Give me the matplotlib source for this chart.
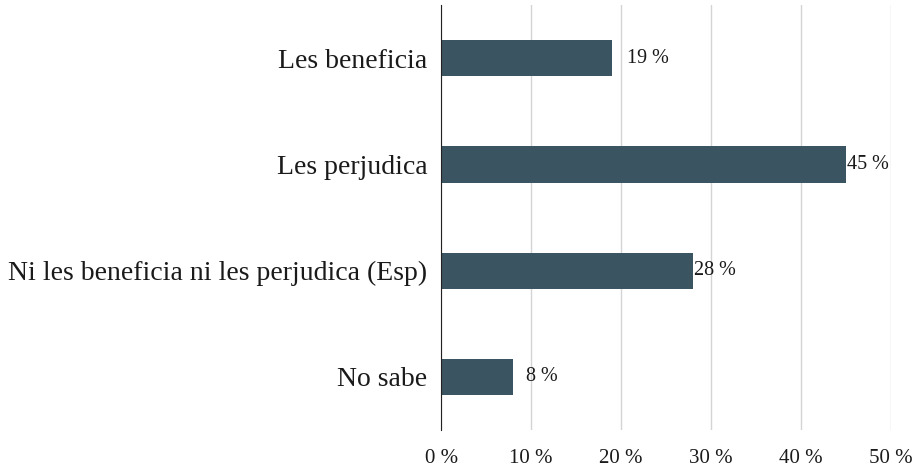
import matplotlib.pyplot as plt

categories = ['Les beneficia', 'Les perjudica', 'Ni les beneficia ni les perjudica (Esp)', 'No sabe']
values = [19, 45, 28, 8]
xticks = [0, 10, 20, 30, 40, 50]

plt.rcParams['font.family'] = ['Liberation Serif', 'DejaVu Serif']

fig = plt.figure(figsize=(9.19, 4.7), dpi=100)
ax = fig.add_axes([0.48, 0.085, 0.4895, 0.904])

y = list(range(len(categories)))
ax.barh(y, values, height=0.34, color='#3a5461', zorder=3)
ax.set_ylim(len(categories) - 0.5, -0.5)
ax.set_xlim(0, 50)

# etiquetas de valor
offsets = [11, 1, 1, 9]
for yi, v, off in zip(y, values, offsets):
    ax.annotate(f'{v} %', (v, yi), xytext=(off, 0), textcoords='offset points',
                va='center', ha='left', fontsize=14.5, color='#1a1a1a')

ax.set_yticks(y)
ax.set_yticklabels(categories, fontsize=20, color='#1a1a1a')
ax.set_xticks(xticks)
ax.set_xticklabels([f'{t} %' for t in xticks], fontsize=15, color='#1a1a1a')
ax.tick_params(length=0, axis='y', pad=10)
ax.tick_params(length=0, axis='x', pad=14)

ax.grid(axis='x', color='#d4d4d4', linewidth=1, zorder=0)
for s in ['top', 'right', 'bottom']:
    ax.spines[s].set_visible(False)
ax.spines['left'].set_color('#222222')
ax.spines['left'].set_zorder(4)

fig.savefig('out.png', dpi=100)
